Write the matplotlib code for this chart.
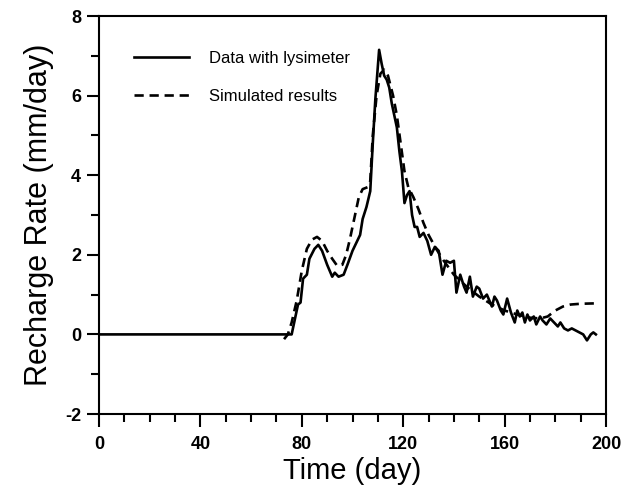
import matplotlib
matplotlib.use("Agg")
import matplotlib.pyplot as plt
from matplotlib.ticker import MultipleLocator

plt.rcParams['font.family'] = ['Liberation Sans', 'DejaVu Sans']
plt.rcParams['axes.unicode_minus'] = False

measured_days = [0, 76, 78.5, 79.5, 80.5, 82, 83, 85, 86.5, 88, 90, 92, 93, 94.5, 96.5, 98, 100,
                 101.5, 103, 104, 105.5, 107, 108, 109, 110.5, 111.5, 112.5, 113.5, 114.5, 115.5,
                 116.5, 117.5, 118.5, 119.5, 120.5, 121.5, 122.5, 123.5, 124.5, 125.5, 126.5, 128,
                 129.5, 131, 132.5, 134, 135.5, 137, 138.5, 140, 141, 142.5, 144, 145, 146.3, 147.5,
                 149, 150, 151.5, 153, 155, 156, 157, 158.5, 159.5, 161, 162.5, 164, 165, 166, 167,
                 168, 169, 170, 171.5, 172.5, 174, 175, 176.5, 178, 179.5, 181, 182, 183.5, 185,
                 186.5, 188, 189.5, 191, 192.5, 194, 195, 196]
measured_vals = [0, 0, 0.75, 0.8, 1.4, 1.5, 1.9, 2.15, 2.25, 2.1, 1.75, 1.45, 1.55, 1.45, 1.5, 1.75, 2.1,
                 2.3, 2.5, 2.9, 3.2, 3.6, 4.8, 5.9, 7.15, 6.8, 6.5, 6.4, 6.2, 5.8,
                 5.5, 5.2, 4.6, 4.1, 3.3, 3.5, 3.6, 3.0, 2.7, 2.7, 2.45, 2.55,
                 2.35, 2.0, 2.2, 2.1, 1.5, 1.85, 1.8, 1.85, 1.05, 1.5, 1.2, 1.05, 1.45, 0.95,
                 1.2, 1.15, 0.9, 1.0, 0.7, 0.95, 0.85, 0.6, 0.5, 0.9, 0.55, 0.3, 0.6, 0.45, 0.55,
                 0.3, 0.5, 0.35, 0.45, 0.25, 0.45, 0.35, 0.25, 0.4, 0.3, 0.2, 0.3, 0.15, 0.1,
                 0.15, 0.1, 0.05, 0.0, -0.15, 0.0, 0.05, 0.0]

sim_days = [73, 74.5, 76, 78, 80, 82, 84, 86, 88, 90, 92, 94, 96, 97.5, 99, 101, 102.5, 104, 106,
            107, 108, 109.5, 111, 112.5, 114, 116, 117.5, 119, 120.5, 122, 124, 126, 128, 130,
            133, 136, 140, 145, 150, 155, 160, 165, 170, 174, 177, 180, 183, 186, 190, 196]
sim_vals = [-0.12, 0.0, 0.3, 0.85, 1.6, 2.15, 2.38, 2.45, 2.35, 2.1, 1.9, 1.72, 1.75, 2.0, 2.4, 3.0,
            3.45, 3.65, 3.7, 3.85, 5.0, 6.0, 6.55, 6.65, 6.5, 6.0, 5.5, 4.8, 4.1, 3.7, 3.45, 3.15,
            2.8, 2.5, 2.15, 1.85, 1.5, 1.2, 0.95, 0.75, 0.6, 0.5, 0.42, 0.4, 0.45, 0.6, 0.7, 0.75,
            0.77, 0.78]

fig = plt.figure(figsize=(6.25, 4.97), dpi=100)
ax = fig.add_axes([0.1584, 0.167, 0.8112, 0.8008])

ax.plot(measured_days, measured_vals, color='black', lw=1.9, ls='-',
        label='Data with lysimeter')
ax.plot(sim_days, sim_vals, color='black', lw=1.9, ls=(0, (3.5, 2.2)),
        label='Simulated results')

ax.set_xlim(0, 200)
ax.set_ylim(-2, 8)
ax.xaxis.set_major_locator(MultipleLocator(40))
ax.xaxis.set_minor_locator(MultipleLocator(10))
ax.yaxis.set_major_locator(MultipleLocator(2))
ax.yaxis.set_minor_locator(MultipleLocator(1))
ax.tick_params(which='major', direction='out', length=9, width=1.5, labelsize=13)
ax.tick_params(axis='x', which='major', pad=7)
ax.tick_params(axis='y', which='major', pad=4)
ax.tick_params(which='minor', direction='out', length=5.5, width=1.5)
ax.tick_params(top=False, right=False, which='both')
for lbl in ax.get_xticklabels() + ax.get_yticklabels():
    lbl.set_fontweight('bold')
for sp in ax.spines.values():
    sp.set_linewidth(1.5)

ax.set_xlabel('Time (day)', fontsize=21, labelpad=3)
ax.set_ylabel('Recharge Rate (mm/day)', fontsize=22, labelpad=8)

ax.legend(loc='upper left', bbox_to_anchor=(0.04, 0.95), frameon=False, fontsize=12,
          handlelength=3.3, handletextpad=1.2, labelspacing=1.4)

fig.savefig('out.png', dpi=100)
